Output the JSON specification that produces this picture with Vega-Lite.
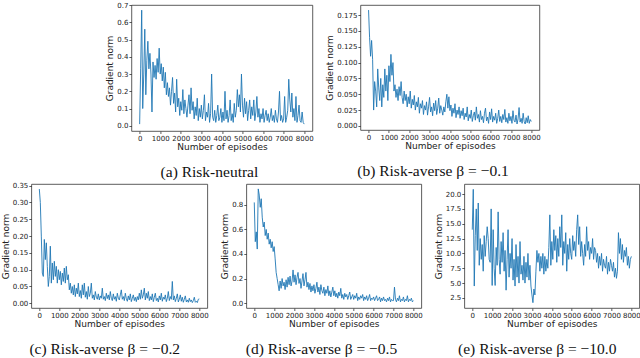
{
"$schema": "https://vega.github.io/schema/vega-lite/v6.json",
"padding": {"left": 0, "top": 0, "right": 0, "bottom": 0},
"background": "white",
"config": {
"view": {"stroke": "#333", "strokeWidth": 0.8},
"axis": {"labelFont": "DejaVu Sans", "labelFontSize": 7, "labelColor": "#222", "titleFont": "DejaVu Sans", "titleFontSize": 9, "titleFontWeight": "normal", "titleColor": "#222", "domain": false, "grid": false, "tickColor": "#333", "tickSize": 2.5, "tickWidth": 0.8, "labelPadding": 1, "titlePadding": 2, "labelOverlap": false},
"axisX": {"titlePadding": 1},
"title": {"font": "Liberation Serif", "fontSize": 15.5, "fontWeight": "normal", "color": "#111", "orient": "bottom", "frame": "bounds", "anchor": "middle", "offset": 13}
},
"datasets": {
"a": [{"x":0,"y":0.01},{"x":50,"y":0.33},{"x":100,"y":0.67},{"x":150,"y":0.10},{"x":200,"y":0.30},{"x":250,"y":0.56},{"x":300,"y":0.18},{"x":350,"y":0.38},{"x":400,"y":0.49},{"x":450,"y":0.33},
{"x":500,"y":0.42},{"x":550,"y":0.30},{"x":600,"y":0.08},{"x":650,"y":0.37},{"x":700,"y":0.28},{"x":750,"y":0.35},{"x":800,"y":0.27},{"x":850,"y":0.39},{"x":900,"y":0.31},{"x":950,"y":0.45},
{"x":1000,"y":0.30},{"x":1050,"y":0.36},{"x":1100,"y":0.26},{"x":1150,"y":0.34},{"x":1200,"y":0.22},{"x":1250,"y":0.31},{"x":1300,"y":0.18},{"x":1350,"y":0.25},{"x":1400,"y":0.17},{"x":1450,"y":0.22},
{"x":1500,"y":0.12},{"x":1550,"y":0.20},{"x":1600,"y":0.28},{"x":1650,"y":0.13},{"x":1700,"y":0.19},{"x":1750,"y":0.08},{"x":1800,"y":0.27},{"x":1850,"y":0.11},{"x":1900,"y":0.16},{"x":1950,"y":0.06},
{"x":2000,"y":0.14},{"x":2050,"y":0.09},{"x":2100,"y":0.21},{"x":2150,"y":0.07},{"x":2200,"y":0.15},{"x":2250,"y":0.10},{"x":2300,"y":0.05},{"x":2350,"y":0.12},{"x":2400,"y":0.18},{"x":2450,"y":0.07},
{"x":2500,"y":0.22},{"x":2550,"y":0.09},{"x":2600,"y":0.14},{"x":2650,"y":0.04},{"x":2700,"y":0.11},{"x":2750,"y":0.06},{"x":2800,"y":0.16},{"x":2850,"y":0.03},{"x":2900,"y":0.10},{"x":2950,"y":0.05},
{"x":3000,"y":0.12},{"x":3050,"y":0.04},{"x":3100,"y":0.09},{"x":3150,"y":0.18},{"x":3200,"y":0.03},{"x":3250,"y":0.08},{"x":3300,"y":0.05},{"x":3350,"y":0.13},{"x":3400,"y":0.02},{"x":3450,"y":0.07},
{"x":3500,"y":0.30},{"x":3550,"y":0.05},{"x":3600,"y":0.03},{"x":3650,"y":0.09},{"x":3700,"y":0.02},{"x":3750,"y":0.06},{"x":3800,"y":0.12},{"x":3850,"y":0.03},{"x":3900,"y":0.05},{"x":3950,"y":0.10},
{"x":4000,"y":0.02},{"x":4050,"y":0.08},{"x":4100,"y":0.03},{"x":4150,"y":0.20},{"x":4200,"y":0.04},{"x":4250,"y":0.09},{"x":4300,"y":0.02},{"x":4350,"y":0.06},{"x":4400,"y":0.15},{"x":4450,"y":0.03},
{"x":4500,"y":0.07},{"x":4550,"y":0.02},{"x":4600,"y":0.13},{"x":4650,"y":0.05},{"x":4700,"y":0.09},{"x":4750,"y":0.21},{"x":4800,"y":0.11},{"x":4850,"y":0.18},{"x":4900,"y":0.08},{"x":4950,"y":0.30},
{"x":5000,"y":0.12},{"x":5050,"y":0.05},{"x":5100,"y":0.16},{"x":5150,"y":0.07},{"x":5200,"y":0.14},{"x":5250,"y":0.03},{"x":5300,"y":0.09},{"x":5350,"y":0.15},{"x":5400,"y":0.04},{"x":5450,"y":0.11},
{"x":5500,"y":0.06},{"x":5550,"y":0.15},{"x":5600,"y":0.03},{"x":5650,"y":0.08},{"x":5700,"y":0.17},{"x":5750,"y":0.05},{"x":5800,"y":0.10},{"x":5850,"y":0.02},{"x":5900,"y":0.07},{"x":5950,"y":0.04},
{"x":6000,"y":0.10},{"x":6050,"y":0.02},{"x":6100,"y":0.06},{"x":6150,"y":0.09},{"x":6200,"y":0.03},{"x":6250,"y":0.07},{"x":6300,"y":0.02},{"x":6350,"y":0.05},{"x":6400,"y":0.10},{"x":6450,"y":0.03},
{"x":6500,"y":0.06},{"x":6550,"y":0.02},{"x":6600,"y":0.09},{"x":6650,"y":0.04},{"x":6700,"y":0.02},{"x":6750,"y":0.08},{"x":6800,"y":0.20},{"x":6850,"y":0.03},{"x":6900,"y":0.06},{"x":6950,"y":0.02},
{"x":7000,"y":0.04},{"x":7050,"y":0.17},{"x":7100,"y":0.02},{"x":7150,"y":0.05},{"x":7200,"y":0.09},{"x":7250,"y":0.27},{"x":7300,"y":0.15},{"x":7350,"y":0.08},{"x":7400,"y":0.19},{"x":7450,"y":0.05},
{"x":7500,"y":0.10},{"x":7550,"y":0.03},{"x":7600,"y":0.17},{"x":7650,"y":0.02},{"x":7700,"y":0.06},{"x":7750,"y":0.12},{"x":7800,"y":0.03},{"x":7850,"y":0.02},{"x":7900,"y":0.08},{"x":7950,"y":0.02},
{"x":8000,"y":0.01}],
"b": [{"x":0,"y":0.183},{"x":50,"y":0.140},{"x":100,"y":0.110},{"x":150,"y":0.135},{"x":200,"y":0.105},{"x":250,"y":0.025},{"x":300,"y":0.070},{"x":350,"y":0.055},{"x":400,"y":0.030},{"x":450,"y":0.090},
{"x":500,"y":0.060},{"x":550,"y":0.040},{"x":600,"y":0.075},{"x":650,"y":0.030},{"x":700,"y":0.065},{"x":750,"y":0.045},{"x":800,"y":0.090},{"x":850,"y":0.055},{"x":900,"y":0.080},{"x":950,"y":0.040},
{"x":1000,"y":0.095},{"x":1050,"y":0.070},{"x":1100,"y":0.113},{"x":1150,"y":0.080},{"x":1200,"y":0.100},{"x":1250,"y":0.055},{"x":1300,"y":0.065},{"x":1350,"y":0.045},{"x":1400,"y":0.058},{"x":1450,"y":0.040},
{"x":1500,"y":0.062},{"x":1550,"y":0.048},{"x":1600,"y":0.070},{"x":1650,"y":0.045},{"x":1700,"y":0.035},{"x":1750,"y":0.055},{"x":1800,"y":0.040},{"x":1850,"y":0.050},{"x":1900,"y":0.030},{"x":1950,"y":0.046},
{"x":2000,"y":0.035},{"x":2050,"y":0.055},{"x":2100,"y":0.028},{"x":2150,"y":0.042},{"x":2200,"y":0.033},{"x":2250,"y":0.048},{"x":2300,"y":0.025},{"x":2350,"y":0.038},{"x":2400,"y":0.030},{"x":2450,"y":0.045},
{"x":2500,"y":0.020},{"x":2550,"y":0.035},{"x":2600,"y":0.028},{"x":2650,"y":0.040},{"x":2700,"y":0.018},{"x":2750,"y":0.032},{"x":2800,"y":0.025},{"x":2850,"y":0.038},{"x":2900,"y":0.017},{"x":2950,"y":0.030},
{"x":3000,"y":0.045},{"x":3050,"y":0.022},{"x":3100,"y":0.030},{"x":3150,"y":0.016},{"x":3200,"y":0.036},{"x":3250,"y":0.024},{"x":3300,"y":0.040},{"x":3350,"y":0.018},{"x":3400,"y":0.028},{"x":3450,"y":0.044},
{"x":3500,"y":0.020},{"x":3550,"y":0.032},{"x":3600,"y":0.025},{"x":3650,"y":0.017},{"x":3700,"y":0.030},{"x":3750,"y":0.022},{"x":3800,"y":0.038},{"x":3850,"y":0.050},{"x":3900,"y":0.028},{"x":3950,"y":0.046},
{"x":4000,"y":0.024},{"x":4050,"y":0.033},{"x":4100,"y":0.015},{"x":4150,"y":0.028},{"x":4200,"y":0.020},{"x":4250,"y":0.035},{"x":4300,"y":0.013},{"x":4350,"y":0.025},{"x":4400,"y":0.018},{"x":4450,"y":0.030},
{"x":4500,"y":0.012},{"x":4550,"y":0.024},{"x":4600,"y":0.016},{"x":4650,"y":0.028},{"x":4700,"y":0.010},{"x":4750,"y":0.020},{"x":4800,"y":0.014},{"x":4850,"y":0.030},{"x":4900,"y":0.008},{"x":4950,"y":0.018},
{"x":5000,"y":0.012},{"x":5050,"y":0.025},{"x":5100,"y":0.007},{"x":5150,"y":0.016},{"x":5200,"y":0.022},{"x":5250,"y":0.009},{"x":5300,"y":0.030},{"x":5350,"y":0.012},{"x":5400,"y":0.018},{"x":5450,"y":0.006},
{"x":5500,"y":0.024},{"x":5550,"y":0.010},{"x":5600,"y":0.015},{"x":5650,"y":0.005},{"x":5700,"y":0.020},{"x":5750,"y":0.028},{"x":5800,"y":0.008},{"x":5850,"y":0.014},{"x":5900,"y":0.004},{"x":5950,"y":0.022},
{"x":6000,"y":0.010},{"x":6050,"y":0.027},{"x":6100,"y":0.006},{"x":6150,"y":0.015},{"x":6200,"y":0.009},{"x":6250,"y":0.020},{"x":6300,"y":0.004},{"x":6350,"y":0.012},{"x":6400,"y":0.025},{"x":6450,"y":0.007},
{"x":6500,"y":0.015},{"x":6550,"y":0.005},{"x":6600,"y":0.018},{"x":6650,"y":0.010},{"x":6700,"y":0.026},{"x":6750,"y":0.006},{"x":6800,"y":0.013},{"x":6850,"y":0.004},{"x":6900,"y":0.020},{"x":6950,"y":0.008},
{"x":7000,"y":0.015},{"x":7050,"y":0.004},{"x":7100,"y":0.024},{"x":7150,"y":0.009},{"x":7200,"y":0.006},{"x":7250,"y":0.017},{"x":7300,"y":0.003},{"x":7350,"y":0.011},{"x":7400,"y":0.029},{"x":7450,"y":0.006},
{"x":7500,"y":0.012},{"x":7550,"y":0.004},{"x":7600,"y":0.020},{"x":7650,"y":0.007},{"x":7700,"y":0.003},{"x":7750,"y":0.013},{"x":7800,"y":0.005},{"x":7850,"y":0.016},{"x":7900,"y":0.004},{"x":7950,"y":0.010},
{"x":8000,"y":0.007}],
"c": [{"x":0,"y":0.340},{"x":50,"y":0.300},{"x":100,"y":0.200},{"x":150,"y":0.090},{"x":200,"y":0.080},{"x":250,"y":0.190},{"x":300,"y":0.130},{"x":350,"y":0.180},{"x":400,"y":0.110},{"x":450,"y":0.050},
{"x":500,"y":0.080},{"x":550,"y":0.170},{"x":600,"y":0.060},{"x":650,"y":0.120},{"x":700,"y":0.070},{"x":750,"y":0.125},{"x":800,"y":0.080},{"x":850,"y":0.110},{"x":900,"y":0.060},{"x":950,"y":0.100},
{"x":1000,"y":0.070},{"x":1050,"y":0.095},{"x":1100,"y":0.055},{"x":1150,"y":0.090},{"x":1200,"y":0.065},{"x":1250,"y":0.105},{"x":1300,"y":0.060},{"x":1350,"y":0.110},{"x":1400,"y":0.070},{"x":1450,"y":0.085},
{"x":1500,"y":0.040},{"x":1550,"y":0.060},{"x":1600,"y":0.030},{"x":1650,"y":0.050},{"x":1700,"y":0.025},{"x":1750,"y":0.055},{"x":1800,"y":0.020},{"x":1850,"y":0.045},{"x":1900,"y":0.028},{"x":1950,"y":0.060},
{"x":2000,"y":0.020},{"x":2050,"y":0.038},{"x":2100,"y":0.015},{"x":2150,"y":0.055},{"x":2200,"y":0.025},{"x":2250,"y":0.060},{"x":2300,"y":0.018},{"x":2350,"y":0.035},{"x":2400,"y":0.012},{"x":2450,"y":0.050},
{"x":2500,"y":0.020},{"x":2550,"y":0.030},{"x":2600,"y":0.060},{"x":2650,"y":0.015},{"x":2700,"y":0.025},{"x":2750,"y":0.010},{"x":2800,"y":0.035},{"x":2850,"y":0.018},{"x":2900,"y":0.012},{"x":2950,"y":0.028},
{"x":3000,"y":0.010},{"x":3050,"y":0.022},{"x":3100,"y":0.015},{"x":3150,"y":0.045},{"x":3200,"y":0.012},{"x":3250,"y":0.020},{"x":3300,"y":0.008},{"x":3350,"y":0.030},{"x":3400,"y":0.014},{"x":3450,"y":0.025},
{"x":3500,"y":0.010},{"x":3550,"y":0.035},{"x":3600,"y":0.015},{"x":3650,"y":0.008},{"x":3700,"y":0.028},{"x":3750,"y":0.012},{"x":3800,"y":0.020},{"x":3850,"y":0.006},{"x":3900,"y":0.030},{"x":3950,"y":0.015},
{"x":4000,"y":0.010},{"x":4050,"y":0.025},{"x":4100,"y":0.040},{"x":4150,"y":0.012},{"x":4200,"y":0.020},{"x":4250,"y":0.008},{"x":4300,"y":0.030},{"x":4350,"y":0.014},{"x":4400,"y":0.006},{"x":4450,"y":0.022},
{"x":4500,"y":0.010},{"x":4550,"y":0.028},{"x":4600,"y":0.005},{"x":4650,"y":0.015},{"x":4700,"y":0.025},{"x":4750,"y":0.008},{"x":4800,"y":0.018},{"x":4850,"y":0.005},{"x":4900,"y":0.020},{"x":4950,"y":0.010},
{"x":5000,"y":0.030},{"x":5050,"y":0.012},{"x":5100,"y":0.040},{"x":5150,"y":0.015},{"x":5200,"y":0.025},{"x":5250,"y":0.045},{"x":5300,"y":0.010},{"x":5350,"y":0.030},{"x":5400,"y":0.015},{"x":5450,"y":0.035},
{"x":5500,"y":0.008},{"x":5550,"y":0.020},{"x":5600,"y":0.010},{"x":5650,"y":0.028},{"x":5700,"y":0.005},{"x":5750,"y":0.018},{"x":5800,"y":0.030},{"x":5850,"y":0.008},{"x":5900,"y":0.015},{"x":5950,"y":0.004},
{"x":6000,"y":0.022},{"x":6050,"y":0.010},{"x":6100,"y":0.030},{"x":6150,"y":0.006},{"x":6200,"y":0.018},{"x":6250,"y":0.012},{"x":6300,"y":0.025},{"x":6350,"y":0.005},{"x":6400,"y":0.015},{"x":6450,"y":0.035},
{"x":6500,"y":0.008},{"x":6550,"y":0.020},{"x":6600,"y":0.012},{"x":6650,"y":0.065},{"x":6700,"y":0.010},{"x":6750,"y":0.022},{"x":6800,"y":0.005},{"x":6850,"y":0.015},{"x":6900,"y":0.028},{"x":6950,"y":0.004},
{"x":7000,"y":0.012},{"x":7050,"y":0.025},{"x":7100,"y":0.006},{"x":7150,"y":0.018},{"x":7200,"y":0.003},{"x":7250,"y":0.012},{"x":7300,"y":0.022},{"x":7350,"y":0.004},{"x":7400,"y":0.010},{"x":7450,"y":0.003},
{"x":7500,"y":0.015},{"x":7550,"y":0.005},{"x":7600,"y":0.010},{"x":7650,"y":0.002},{"x":7700,"y":0.008},{"x":7750,"y":0.018},{"x":7800,"y":0.003},{"x":7850,"y":0.006},{"x":7900,"y":0.002},{"x":7950,"y":0.012},
{"x":8000,"y":0.013}],
"d": [{"x":0,"y":0.82},{"x":50,"y":0.50},{"x":100,"y":0.58},{"x":150,"y":0.44},{"x":200,"y":0.93},{"x":250,"y":0.88},{"x":300,"y":0.78},{"x":350,"y":0.85},{"x":400,"y":0.70},{"x":450,"y":0.62},
{"x":500,"y":0.66},{"x":550,"y":0.55},{"x":600,"y":0.60},{"x":650,"y":0.52},{"x":700,"y":0.57},{"x":750,"y":0.48},{"x":800,"y":0.52},{"x":850,"y":0.45},{"x":900,"y":0.50},{"x":950,"y":0.42},
{"x":1000,"y":0.46},{"x":1050,"y":0.36},{"x":1100,"y":0.25},{"x":1150,"y":0.20},{"x":1200,"y":0.15},{"x":1250,"y":0.10},{"x":1300,"y":0.18},{"x":1350,"y":0.12},{"x":1400,"y":0.20},{"x":1450,"y":0.14},
{"x":1500,"y":0.17},{"x":1550,"y":0.11},{"x":1600,"y":0.19},{"x":1650,"y":0.13},{"x":1700,"y":0.21},{"x":1750,"y":0.15},{"x":1800,"y":0.22},{"x":1850,"y":0.14},{"x":1900,"y":0.18},{"x":1950,"y":0.27},
{"x":2000,"y":0.17},{"x":2050,"y":0.23},{"x":2100,"y":0.15},{"x":2150,"y":0.21},{"x":2200,"y":0.25},{"x":2250,"y":0.16},{"x":2300,"y":0.20},{"x":2350,"y":0.12},{"x":2400,"y":0.18},{"x":2450,"y":0.24},
{"x":2500,"y":0.14},{"x":2550,"y":0.19},{"x":2600,"y":0.25},{"x":2650,"y":0.13},{"x":2700,"y":0.17},{"x":2750,"y":0.11},{"x":2800,"y":0.16},{"x":2850,"y":0.09},{"x":2900,"y":0.14},{"x":2950,"y":0.10},
{"x":3000,"y":0.15},{"x":3050,"y":0.08},{"x":3100,"y":0.12},{"x":3150,"y":0.17},{"x":3200,"y":0.09},{"x":3250,"y":0.13},{"x":3300,"y":0.07},{"x":3350,"y":0.15},{"x":3400,"y":0.10},{"x":3450,"y":0.08},
{"x":3500,"y":0.13},{"x":3550,"y":0.06},{"x":3600,"y":0.11},{"x":3650,"y":0.08},{"x":3700,"y":0.14},{"x":3750,"y":0.06},{"x":3800,"y":0.10},{"x":3850,"y":0.05},{"x":3900,"y":0.09},{"x":3950,"y":0.13},
{"x":4000,"y":0.06},{"x":4050,"y":0.10},{"x":4100,"y":0.05},{"x":4150,"y":0.08},{"x":4200,"y":0.04},{"x":4250,"y":0.09},{"x":4300,"y":0.06},{"x":4350,"y":0.12},{"x":4400,"y":0.04},{"x":4450,"y":0.07},
{"x":4500,"y":0.03},{"x":4550,"y":0.08},{"x":4600,"y":0.05},{"x":4650,"y":0.07},{"x":4700,"y":0.03},{"x":4750,"y":0.06},{"x":4800,"y":0.09},{"x":4850,"y":0.03},{"x":4900,"y":0.05},{"x":4950,"y":0.07},
{"x":5000,"y":0.03},{"x":5050,"y":0.06},{"x":5100,"y":0.04},{"x":5150,"y":0.08},{"x":5200,"y":0.02},{"x":5250,"y":0.05},{"x":5300,"y":0.03},{"x":5350,"y":0.06},{"x":5400,"y":0.04},{"x":5450,"y":0.07},
{"x":5500,"y":0.02},{"x":5550,"y":0.05},{"x":5600,"y":0.03},{"x":5650,"y":0.06},{"x":5700,"y":0.02},{"x":5750,"y":0.04},{"x":5800,"y":0.07},{"x":5850,"y":0.02},{"x":5900,"y":0.04},{"x":5950,"y":0.03},
{"x":6000,"y":0.05},{"x":6050,"y":0.02},{"x":6100,"y":0.04},{"x":6150,"y":0.06},{"x":6200,"y":0.02},{"x":6250,"y":0.03},{"x":6300,"y":0.05},{"x":6350,"y":0.01},{"x":6400,"y":0.04},{"x":6450,"y":0.02},
{"x":6500,"y":0.05},{"x":6550,"y":0.02},{"x":6600,"y":0.03},{"x":6650,"y":0.01},{"x":6700,"y":0.04},{"x":6750,"y":0.02},{"x":6800,"y":0.05},{"x":6850,"y":0.01},{"x":6900,"y":0.03},{"x":6950,"y":0.02},
{"x":7000,"y":0.02},{"x":7050,"y":0.13},{"x":7100,"y":0.03},{"x":7150,"y":0.01},{"x":7200,"y":0.04},{"x":7250,"y":0.02},{"x":7300,"y":0.06},{"x":7350,"y":0.01},{"x":7400,"y":0.03},{"x":7450,"y":0.02},
{"x":7500,"y":0.05},{"x":7550,"y":0.01},{"x":7600,"y":0.03},{"x":7650,"y":0.02},{"x":7700,"y":0.06},{"x":7750,"y":0.01},{"x":7800,"y":0.03},{"x":7850,"y":0.02},{"x":7900,"y":0.04},{"x":7950,"y":0.01},
{"x":8000,"y":0.02}],
"e": [{"x":0,"y":14.0},{"x":50,"y":20.8},{"x":100,"y":4.5},{"x":150,"y":13.0},{"x":200,"y":17.5},{"x":250,"y":10.5},{"x":300,"y":18.5},{"x":350,"y":8.0},{"x":400,"y":12.5},{"x":450,"y":9.0},
{"x":500,"y":11.5},{"x":550,"y":7.0},{"x":600,"y":13.0},{"x":650,"y":9.5},{"x":700,"y":12.0},{"x":750,"y":14.5},{"x":800,"y":12.5},{"x":850,"y":9.0},{"x":900,"y":8.5},{"x":950,"y":17.5},
{"x":1000,"y":4.6},{"x":1050,"y":14.0},{"x":1100,"y":7.5},{"x":1150,"y":4.6},{"x":1200,"y":11.0},{"x":1250,"y":8.0},{"x":1300,"y":17.0},{"x":1350,"y":9.0},{"x":1400,"y":6.5},{"x":1450,"y":12.0},
{"x":1500,"y":8.5},{"x":1550,"y":13.5},{"x":1600,"y":7.0},{"x":1650,"y":10.5},{"x":1700,"y":3.8},{"x":1750,"y":9.0},{"x":1800,"y":14.0},{"x":1850,"y":6.0},{"x":1900,"y":10.0},{"x":1950,"y":7.5},
{"x":2000,"y":12.5},{"x":2050,"y":5.5},{"x":2100,"y":9.0},{"x":2150,"y":4.5},{"x":2200,"y":11.5},{"x":2250,"y":6.0},{"x":2300,"y":9.5},{"x":2350,"y":5.0},{"x":2400,"y":12.0},{"x":2450,"y":6.5},
{"x":2500,"y":8.0},{"x":2550,"y":5.5},{"x":2600,"y":9.5},{"x":2650,"y":5.0},{"x":2700,"y":8.5},{"x":2750,"y":6.0},{"x":2800,"y":10.0},{"x":2850,"y":5.5},{"x":2900,"y":8.0},{"x":2950,"y":4.5},
{"x":3000,"y":3.0},{"x":3050,"y":1.7},{"x":3100,"y":4.0},{"x":3150,"y":3.0},{"x":3200,"y":7.0},{"x":3250,"y":10.5},{"x":3300,"y":8.5},{"x":3350,"y":10.0},{"x":3400,"y":7.0},{"x":3450,"y":9.5},
{"x":3500,"y":7.5},{"x":3550,"y":10.0},{"x":3600,"y":6.5},{"x":3650,"y":9.5},{"x":3700,"y":7.0},{"x":3750,"y":9.0},{"x":3800,"y":7.5},{"x":3850,"y":11.0},{"x":3900,"y":16.5},{"x":3950,"y":8.0},
{"x":4000,"y":12.0},{"x":4050,"y":9.0},{"x":4100,"y":14.0},{"x":4150,"y":10.5},{"x":4200,"y":13.0},{"x":4250,"y":8.5},{"x":4300,"y":12.5},{"x":4350,"y":9.5},{"x":4400,"y":14.5},{"x":4450,"y":11.0},
{"x":4500,"y":16.5},{"x":4550,"y":8.0},{"x":4600,"y":12.0},{"x":4650,"y":10.0},{"x":4700,"y":13.5},{"x":4750,"y":7.0},{"x":4800,"y":11.5},{"x":4850,"y":9.0},{"x":4900,"y":12.5},{"x":4950,"y":10.0},
{"x":5000,"y":9.0},{"x":5050,"y":13.0},{"x":5100,"y":10.5},{"x":5150,"y":12.0},{"x":5200,"y":9.5},{"x":5250,"y":14.0},{"x":5300,"y":16.5},{"x":5350,"y":11.5},{"x":5400,"y":14.5},{"x":5450,"y":9.5},
{"x":5500,"y":12.0},{"x":5550,"y":10.0},{"x":5600,"y":8.0},{"x":5650,"y":11.5},{"x":5700,"y":9.5},{"x":5750,"y":14.5},{"x":5800,"y":10.5},{"x":5850,"y":12.0},{"x":5900,"y":9.0},{"x":5950,"y":11.0},
{"x":6000,"y":10.0},{"x":6050,"y":12.5},{"x":6100,"y":9.0},{"x":6150,"y":11.0},{"x":6200,"y":10.5},{"x":6250,"y":8.5},{"x":6300,"y":10.0},{"x":6350,"y":7.5},{"x":6400,"y":9.5},{"x":6450,"y":8.0},
{"x":6500,"y":10.0},{"x":6550,"y":7.0},{"x":6600,"y":9.0},{"x":6650,"y":8.0},{"x":6700,"y":7.5},{"x":6750,"y":9.5},{"x":6800,"y":6.5},{"x":6850,"y":8.5},{"x":6900,"y":7.0},{"x":6950,"y":9.0},
{"x":7000,"y":8.0},{"x":7050,"y":7.0},{"x":7100,"y":8.5},{"x":7150,"y":6.0},{"x":7200,"y":7.5},{"x":7250,"y":5.8},{"x":7300,"y":7.0},{"x":7350,"y":13.5},{"x":7400,"y":10.0},{"x":7450,"y":12.5},
{"x":7500,"y":9.0},{"x":7550,"y":11.5},{"x":7600,"y":8.5},{"x":7650,"y":10.5},{"x":7700,"y":9.5},{"x":7750,"y":11.0},{"x":7800,"y":8.0},{"x":7850,"y":9.5},{"x":7900,"y":7.5},{"x":7950,"y":9.0},
{"x":8000,"y":9.5}]
},
"vconcat": [
{"hconcat": [
{"width": 181, "height": 126, "data": {"name": "a"}, "title": {"text": "(a) Risk-neutral"},
 "mark": {"type": "line", "color": "#1f77b4", "strokeWidth": 0.9},
 "encoding": {
  "x": {"field": "x", "type": "quantitative", "scale": {"domain": [-400, 8400], "nice": false, "zero": false}, "axis": {"values": [0,1000,2000,3000,4000,5000,6000,7000,8000], "format": "d", "title": "Number of episodes"}},
  "y": {"field": "y", "type": "quantitative", "scale": {"domain": [-0.03, 0.7], "nice": false, "zero": false}, "axis": {"values": [0,0.1,0.2,0.3,0.4,0.5,0.6,0.7], "format": ".1f", "title": "Gradient norm"}}}},
{"width": 179, "height": 125, "data": {"name": "b"}, "title": {"text": "(b) Risk-averse β = −0.1"},
 "mark": {"type": "line", "color": "#1f77b4", "strokeWidth": 0.9},
 "encoding": {
  "x": {"field": "x", "type": "quantitative", "scale": {"domain": [-400, 8400], "nice": false, "zero": false}, "axis": {"values": [0,1000,2000,3000,4000,5000,6000,7000,8000], "format": "d", "title": "Number of episodes"}},
  "y": {"field": "y", "type": "quantitative", "scale": {"domain": [-0.0065, 0.191], "nice": false, "zero": false}, "axis": {"values": [0,0.025,0.05,0.075,0.1,0.125,0.15,0.175], "format": ".3f", "title": "Gradient norm"}}}}
], "spacing": 11},
{"hconcat": [
{"width": 176, "height": 124, "data": {"name": "c"}, "title": {"text": "(c) Risk-averse β = −0.2"},
 "mark": {"type": "line", "color": "#1f77b4", "strokeWidth": 0.9},
 "encoding": {
  "x": {"field": "x", "type": "quantitative", "scale": {"domain": [-400, 8400], "nice": false, "zero": false}, "axis": {"values": [0,1000,2000,3000,4000,5000,6000,7000,8000], "format": "d", "title": "Number of episodes"}},
  "y": {"field": "y", "type": "quantitative", "scale": {"domain": [-0.014, 0.355], "nice": false, "zero": false}, "axis": {"values": [0,0.05,0.1,0.15,0.2,0.25,0.3,0.35], "format": ".2f", "title": "Gradient norm"}}}},
{"width": 175, "height": 124, "data": {"name": "d"}, "title": {"text": "(d) Risk-averse β = −0.5"},
 "mark": {"type": "line", "color": "#1f77b4", "strokeWidth": 0.9},
 "encoding": {
  "x": {"field": "x", "type": "quantitative", "scale": {"domain": [-400, 8400], "nice": false, "zero": false}, "axis": {"values": [0,1000,2000,3000,4000,5000,6000,7000,8000], "format": "d", "title": "Number of episodes"}},
  "y": {"field": "y", "type": "quantitative", "scale": {"domain": [-0.04, 0.97], "nice": false, "zero": false}, "axis": {"values": [0,0.2,0.4,0.6,0.8], "format": ".1f", "title": "Gradient norm"}}}},
{"width": 175, "height": 124, "data": {"name": "e"}, "title": {"text": "(e) Risk-averse β = −10.0"},
 "mark": {"type": "line", "color": "#1f77b4", "strokeWidth": 0.9},
 "encoding": {
  "x": {"field": "x", "type": "quantitative", "scale": {"domain": [-400, 8400], "nice": false, "zero": false}, "axis": {"values": [0,1000,2000,3000,4000,5000,6000,7000,8000], "format": "d", "title": "Number of episodes"}},
  "y": {"field": "y", "type": "quantitative", "scale": {"domain": [0.8, 21.7], "nice": false, "zero": false}, "axis": {"values": [2.5,5,7.5,10,12.5,15,17.5,20], "format": ".1f", "title": "Gradient norm"}}}}
], "spacing": 10}
],
"spacing": 0,
"center": true
}
